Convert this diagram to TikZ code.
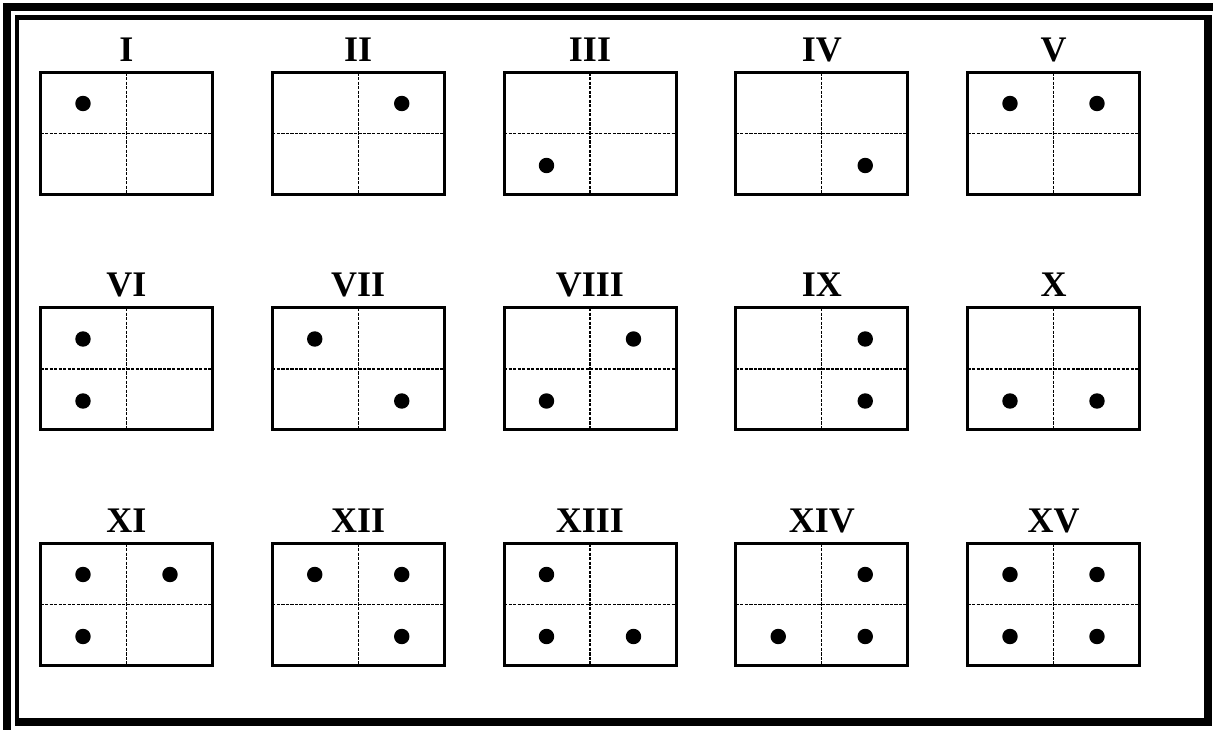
\documentclass[tikz,border=0pt]{standalone}
\usepackage{fontspec}
\setmainfont{Liberation Serif}
\begin{document}
\begin{tikzpicture}[x=0.75pt,y=-0.75pt,
  cellbox/.style={draw, line width=2.25pt, minimum width=129pt, minimum height=91.5pt, inner sep=0pt, outer sep=0pt},
  divider/.style={line width=0.8pt, dash pattern=on 2.4pt off 1pt},
  dotmark/.style={fill=black},
  numlabel/.style={font=\fontsize{27}{30}\selectfont\bfseries, anchor=base, inner sep=0pt}]
\useasboundingbox (0,0) rectangle (1213,730);
% frame
\fill[black] (3,3) rectangle (1213,11);
\fill[black] (3,3) rectangle (11,730);
\fill[black] (15,15) rectangle (1212,20);
\fill[black] (15,15) rectangle (19,726);
\fill[black] (1204,15) rectangle (1212,726);
\fill[black] (15,718) rectangle (1212,726);
% boxes
\foreach \n/\lab/\c/\r/\q in {
  1/I/0/0/{1},
  2/II/1/0/{2},
  3/III/2/0/{3},
  4/IV/3/0/{4},
  5/V/4/0/{1,2},
  6/VI/0/1/{1,3},
  7/VII/1/1/{1,4},
  8/VIII/2/1/{2,3},
  9/IX/3/1/{2,4},
  10/X/4/1/{3,4},
  11/XI/0/2/{1,2,3},
  12/XII/1/2/{1,2,4},
  13/XIII/2/2/{1,3,4},
  14/XIV/3/2/{2,3,4},
  15/XV/4/2/{1,2,3,4}}{
  \pgfmathsetmacro{\cx}{126.5+231.75*\c}
  \pgfmathsetmacro{\cy}{133.5+235.5*\r}
  \node[cellbox] (b\n) at (\cx,\cy) {};
  \node[numlabel] (t\n) at (\cx,\cy-72) {\lab};
  \draw[divider] (b\n.north) -- (b\n.south);
  \draw[divider] (b\n.west) -- (b\n.east);
  \foreach \k in \q {
    \ifcase\k\or
      \fill[dotmark] (b\n) ++(-43.5,-30) circle (5.8pt);
    \or
      \fill[dotmark] (b\n) ++(43.5,-30) circle (5.8pt);
    \or
      \fill[dotmark] (b\n) ++(-43.5,32) circle (5.8pt);
    \or
      \fill[dotmark] (b\n) ++(43.5,32) circle (5.8pt);
    \fi
  }
}
\end{tikzpicture}
\end{document}
